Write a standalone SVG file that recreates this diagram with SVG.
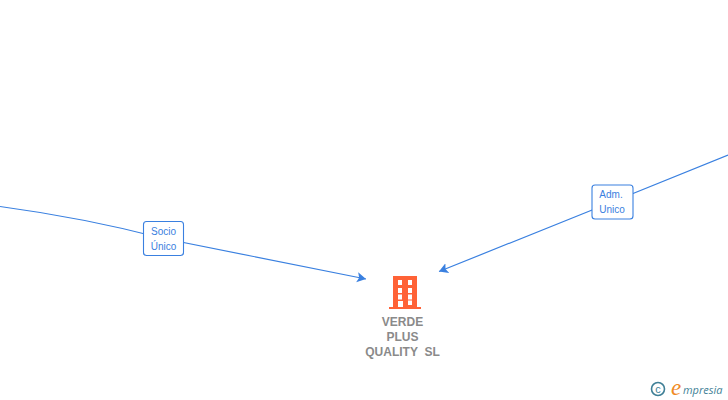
<svg xmlns="http://www.w3.org/2000/svg" width="728" height="400" viewBox="0 0 728 400">
<style>
.edge{fill:none;stroke:#3a80e0;stroke-width:1.2}
.box{fill:#fff;stroke:#3a80e0;stroke-width:1.1}
.lbl{font:10px "Liberation Sans",Arial,sans-serif;fill:#3a80e0;text-anchor:middle}
.name{font:bold 12px "Liberation Sans",Arial,sans-serif;fill:#8a8a8a;text-anchor:middle}
.bld{fill:#ff6236}
</style>
<defs>
<marker id="arrow" markerUnits="userSpaceOnUse" markerWidth="12" markerHeight="12" refX="9" refY="6" orient="auto"><path d="M0 0.800L9 6L0 11.200L2 6Z" fill="#3a80e0"/></marker>
</defs>
<rect width="728" height="400" fill="#fff"/>
<g id="connectors">
<path class="edge" d="M0 206.500Q85 218 163.500 238.500L366 279" marker-end="url(#arrow)"/>
<path class="edge" d="M728 155L612 202L439 271.500" marker-end="url(#arrow)"/>
</g>
<g id="edge-label-socio">
<rect class="box" x="143.500" y="221.500" width="40" height="34" rx="3"/>
<text class="lbl" x="163.500" y="235">Socio</text>
<text class="lbl" x="163.500" y="250">Único</text>
</g>
<g id="edge-label-adm">
<rect class="box" x="592" y="185" width="41" height="34" rx="3"/>
<text class="lbl" x="611" y="198">Adm.</text>
<text class="lbl" x="612" y="213">Unico</text>
</g>
<g id="node-verde">
<path class="bld" fill-rule="evenodd" d="M393 276H417V307H421V309H389V307H393ZM398 280V285H402V280ZM408 280V285H412V280ZM398 288V293H402V288ZM408 288V293H412V288ZM398 294.500V299.500H402V294.500ZM408 294.500V299.500H412V294.500ZM398 301V307H403V301ZM408 300.500V305H412V300.500Z"/>
<text class="name" x="402.500" y="326">VERDE</text>
<text class="name" x="402.500" y="341">PLUS</text>
<text class="name" x="402.500" y="356" xml:space="preserve">QUALITY  SL</text>
</g>
<g id="logo">
<circle cx="658" cy="389" r="6.500" fill="none" stroke="#3f7f96" stroke-width="1.600"/>
<text x="658" y="393" font-family="Liberation Sans,sans-serif" font-size="11" fill="#3f7f96" text-anchor="middle">c</text>
<text x="671" y="394.500" font-family="Liberation Serif,serif" font-size="23" font-style="italic" fill="#f08a24">e</text>
<text x="683" y="394" font-family="Open Sans,sans-serif" font-size="11" font-style="italic" fill="#3f7f96">mpresia</text>
</g>
</svg>
